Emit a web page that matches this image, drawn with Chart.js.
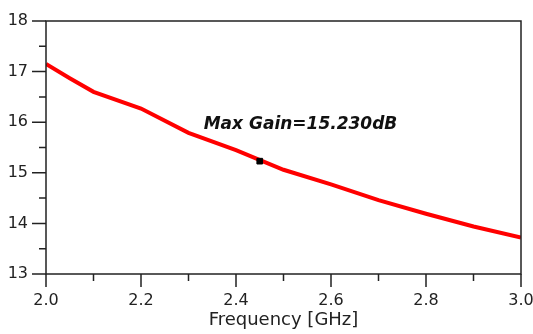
<!DOCTYPE html>
<html>
<head>
<meta charset="utf-8">
<script src="https://cdn.jsdelivr.net/npm/chart.js@4"></script>
<style>
  html, body { margin: 0; padding: 0; background: #fff; }
  #wrap { width: 533px; height: 334px; }
</style>
</head>
<body>
<div id="wrap"><canvas id="gain"></canvas></div>
<script>
// gain vs frequency
const freqs = [2.0, 2.05, 2.1, 2.2, 2.3, 2.4, 2.5, 2.6, 2.7, 2.8, 2.9, 3.0];
const gains = [17.15, 16.87, 16.6, 16.27, 15.79, 15.45, 15.06, 14.77, 14.46, 14.19, 13.94, 13.72];
const markerFreq = [2.45];
const markerGain = [15.23];
const markerText = 'Max Gain=15.230dB';
const xTicks = [2.0, 2.2, 2.4, 2.6, 2.8, 3.0];
const yTicks = [13, 14, 15, 16, 17, 18];

const FONT = '"DejaVu Sans", Verdana, sans-serif';

// draws the frame, major/minor outward ticks and the marker label
const framePlugin = {
  id: 'frame',
  afterDraw(chart) {
    const ctx = chart.ctx;
    const a = chart.chartArea;
    const xs = chart.scales.x, ys = chart.scales.y;
    ctx.save();
    ctx.strokeStyle = '#222';
    ctx.lineWidth = 1.5;
    ctx.strokeRect(a.left, a.top, a.right - a.left, a.bottom - a.top);
    ctx.beginPath();
    for (let i = 0; i < xTicks.length; i++) {
      const px = xs.getPixelForValue(xTicks[i]);
      ctx.moveTo(px, a.bottom); ctx.lineTo(px, a.bottom + 13);
      if (i < xTicks.length - 1) {
        const mx = xs.getPixelForValue((xTicks[i] + xTicks[i + 1]) / 2);
        ctx.moveTo(mx, a.bottom); ctx.lineTo(mx, a.bottom + 7);
      }
    }
    for (let i = 0; i < yTicks.length; i++) {
      const py = ys.getPixelForValue(yTicks[i]);
      ctx.moveTo(a.left, py); ctx.lineTo(a.left - 14, py);
      if (i < yTicks.length - 1) {
        const my = ys.getPixelForValue((yTicks[i] + yTicks[i + 1]) / 2);
        ctx.moveTo(a.left, my); ctx.lineTo(a.left - 7, my);
      }
    }
    ctx.stroke();

    ctx.fillStyle = '#111';
    ctx.font = 'italic bold 17px ' + FONT;
    ctx.textAlign = 'left';
    ctx.textBaseline = 'middle';
    ctx.fillText(markerText, xs.getPixelForValue(2.332), ys.getPixelForValue(15.96));
    ctx.restore();
  }
};

new Chart(document.getElementById('gain'), {
  type: 'line',
  data: {
    datasets: [
      {
        data: freqs.map((f, i) => ({ x: f, y: gains[i] })),
        borderColor: '#ff0000',
        borderWidth: 4,
        pointRadius: 0,
        tension: 0,
        order: 2
      },
      {
        data: markerFreq.map((f, i) => ({ x: f, y: markerGain[i] })),
        showLine: false,
        pointStyle: 'rect',
        pointRadius: 4,
        backgroundColor: '#000',
        borderColor: '#000',
        order: 1
      }
    ]
  },
  options: {
    responsive: true,
    maintainAspectRatio: false,
    animation: false,
    layout: { padding: { top: 21, right: 12, left: 0, bottom: 0 } },
    plugins: { legend: { display: false }, tooltip: { enabled: false } },
    scales: {
      x: {
        type: 'linear',
        min: 2, max: 3,
        afterBuildTicks: s => { s.ticks = xTicks.map(v => ({ value: v })); },
        afterFit: s => { s.height = 60; s.paddingLeft = 0; s.paddingRight = 0; },
        grid: { display: false },
        border: { display: false },
        ticks: {
          padding: 9,
          maxRotation: 0,
          color: '#222',
          font: { family: FONT, size: 16 },
          callback: v => v.toFixed(1)
        },
        title: {
          display: true,
          text: 'Frequency [GHz]',
          color: '#222',
          font: { family: FONT, size: 18 },
          padding: { top: 0, bottom: 3 }
        }
      },
      y: {
        min: 13, max: 18,
        afterBuildTicks: s => { s.ticks = yTicks.map(v => ({ value: v })); },
        afterFit: s => { s.width = 46; s.paddingTop = 0; s.paddingBottom = 0; },
        grid: { display: false },
        border: { display: false },
        ticks: {
          padding: 10,
          color: '#222',
          font: { family: FONT, size: 16 }
        }
      }
    }
  },
  plugins: [framePlugin]
});
</script>
</body>
</html>
